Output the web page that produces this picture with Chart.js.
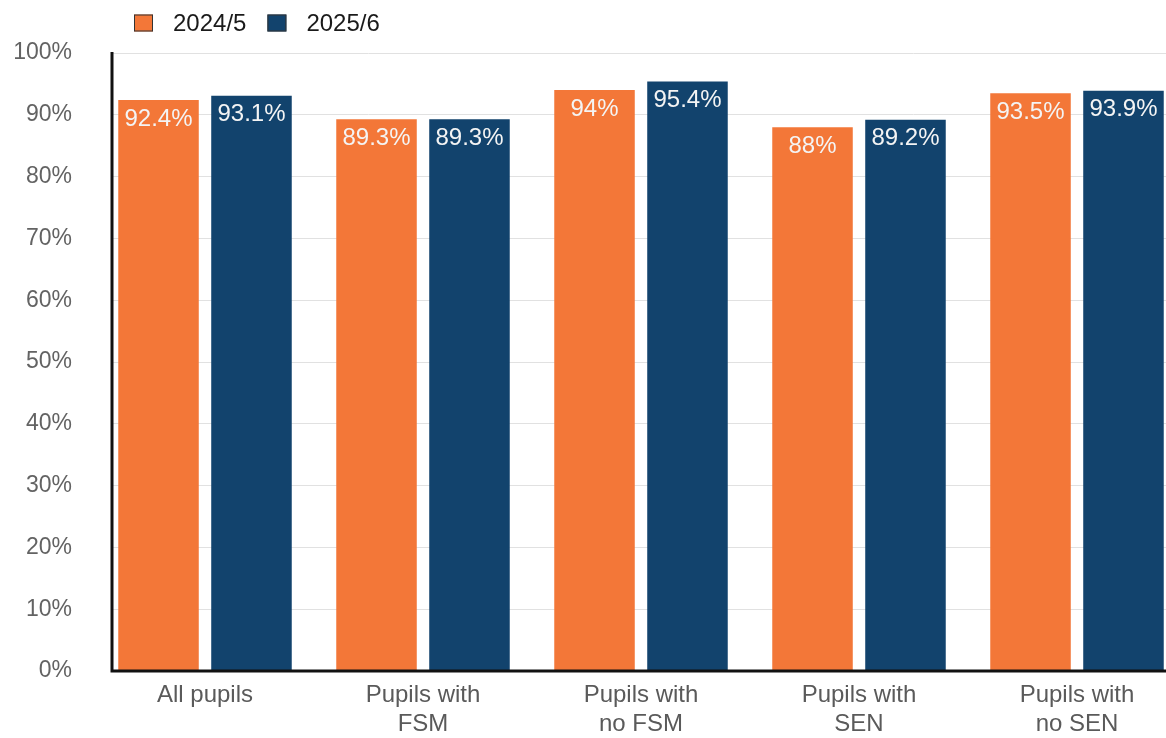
<!DOCTYPE html>
<html>
<head>
<meta charset="utf-8">
<script src="https://cdn.jsdelivr.net/npm/chart.js@4/dist/chart.umd.min.js"></script>
<style>
  body { margin: 0; overflow: hidden; background: #fff; }
  #wrap { width: 1186px; height: 738px; }
</style>
</head>
<body>
<div id="wrap"><canvas id="attendance"></canvas></div>
<script>
const categories = ['All pupils', ['Pupils with', 'FSM'], ['Pupils with', 'no FSM'], ['Pupils with', 'SEN'], ['Pupils with', 'no SEN']];
const seriesNames = ['2024/5', '2025/6'];
const values2024 = [92.4, 89.3, 94, 88, 93.5];
const values2025 = [93.1, 89.3, 95.4, 89.2, 93.9];
const yTicks = [0, 10, 20, 30, 40, 50, 60, 70, 80, 90, 100];

const ORANGE = '#f37738';
const BLUE = '#12436d';
const FONT = "'Liberation Sans', Arial, sans-serif";

// white value labels inside the top of each bar
const barLabels = {
  id: 'barLabels',
  afterDatasetsDraw(chart) {
    const ctx = chart.ctx;
    ctx.save();
    ctx.font = '24px ' + FONT;
    ctx.fillStyle = '#f4f4f4';
    ctx.textAlign = 'center';
    ctx.textBaseline = 'middle';
    chart.data.datasets.forEach((ds, i) => {
      chart.getDatasetMeta(i).data.forEach((bar, j) => {
        ctx.fillText(ds.data[j] + '%', bar.x, bar.y + 19);
      });
    });
    ctx.restore();
  }
};

// black axis lines, set in a little from the plot's left edge
const axisLines = {
  id: 'axisLines',
  beforeDatasetsDraw(chart) {
    const a = chart.chartArea;
    const ctx = chart.ctx;
    ctx.save();
    ctx.fillStyle = '#fff';
    ctx.fillRect(a.left, a.top - 2, 15, a.bottom - a.top + 4);
    ctx.restore();
  },
  afterDatasetsDraw(chart) {
    const a = chart.chartArea;
    const ctx = chart.ctx;
    const x0 = a.left + 16;
    ctx.save();
    ctx.strokeStyle = '#111';
    ctx.lineWidth = 3;
    ctx.beginPath();
    ctx.moveTo(x0, a.top - 1);
    ctx.lineTo(x0, a.bottom);
    ctx.lineTo(a.right, a.bottom);
    ctx.stroke();
    ctx.restore();
  }
};

// legend top left
const topLegend = {
  id: 'topLegend',
  afterDraw(chart) {
    const ctx = chart.ctx;
    ctx.save();
    ctx.font = '24px ' + FONT;
    ctx.textBaseline = 'middle';
    let x = 134;
    const y = 23;
    chart.data.datasets.forEach(ds => {
      ctx.fillStyle = ds.backgroundColor;
      ctx.fillRect(x, y - 8.5, 19, 17);
      ctx.strokeStyle = '#333';
      ctx.lineWidth = 1;
      ctx.strokeRect(x + 0.5, y - 8, 18, 16);
      ctx.fillStyle = '#1a1a1a';
      ctx.fillText(ds.label, x + 39, y + 1);
      x += 39 + ctx.measureText(ds.label).width + 21;
    });
    ctx.restore();
  }
};

function createChart() {
  const ctx = document.getElementById('attendance').getContext('2d');
  return new Chart(ctx, {
    type: 'bar',
    data: {
      labels: categories,
      datasets: [
        { label: seriesNames[0], data: values2024, backgroundColor: ORANGE },
        { label: seriesNames[1], data: values2025, backgroundColor: BLUE },
      ],
    },
    options: {
      responsive: true,
      maintainAspectRatio: false,
      animation: false,
      datasets: { bar: { categoryPercentage: 0.853, barPercentage: 0.866 } },
      layout: { padding: { top: 53, left: 0, right: 0, bottom: 0 } },
      plugins: {
        legend: { display: false },
        tooltip: { enabled: false },
      },
      scales: {
        x: {
          grid: { display: false, drawTicks: false },
          border: { display: false },
          ticks: {
            color: '#5a5a5a',
            font: { family: FONT, size: 24 },
            padding: 10,
            maxRotation: 0,
            autoSkip: false,
          },
          afterFit(scale) { scale.height = 67; },
        },
        y: {
          min: 0,
          max: 100,
          afterBuildTicks(scale) { scale.ticks = yTicks.map(v => ({ value: v })); },
          grid: { color: '#e1e1e1', lineWidth: 1, drawTicks: false },
          border: { display: false },
          ticks: {
            color: '#636363',
            font: { family: FONT, size: 23 },
            padding: 24,
            callback: v => v + '%',
          },
          afterFit(scale) { scale.width = 96; },
        },
      },
    },
    plugins: [axisLines, barLabels, topLegend],
  });
}

createChart();
</script>
</body>
</html>
